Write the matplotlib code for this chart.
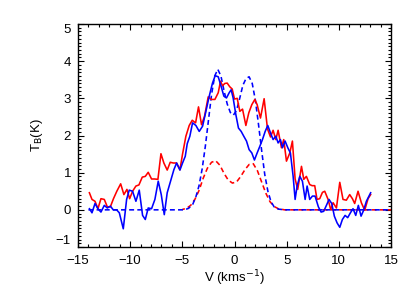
import numpy as np
import matplotlib
matplotlib.use("Agg")
import matplotlib.pyplot as plt
from matplotlib.ticker import MultipleLocator

# observed spectra (velocity in km/s, brightness temperature in K)
red_v = [-13.91, -13.66, -13.37, -13.09, -12.80, -12.48, -12.19, -11.90, -11.60, -11.28,
         -10.91, -10.60, -10.31, -10.05, -9.77, -9.45, -9.16, -8.84, -8.55, -8.27,
         -7.95, -7.66, -7.34, -7.05, -6.77, -6.45, -6.16, -5.87, -5.55, -5.23,
         -4.98, -4.66, -4.34, -4.05, -3.73, -3.45, -3.16, -2.87, -2.52, -2.23,
         -1.88, -1.56, -1.34, -1.15, -0.93, -0.70, -0.45, -0.22, 0.00, 0.26,
         0.51, 0.77, 1.09, 1.37, 1.66, 1.95, 2.17, 2.49, 2.84, 3.16,
         3.45, 3.70, 3.96, 4.18, 4.50, 4.72, 4.98, 5.30, 5.55, 5.81,
         6.06, 6.42, 6.64, 6.89, 7.21, 7.44, 7.69, 7.91, 8.17, 8.43,
         8.65, 8.97, 9.22, 9.45, 9.77, 10.09, 10.40, 10.72, 11.04, 11.30,
         11.52, 11.84, 12.16, 12.48, 12.80, 13.05]
red_t = [0.46, 0.28, 0.23, 0.03, 0.30, 0.28, 0.08, 0.08, 0.30, 0.50,
         0.70, 0.41, 0.55, 0.30, 0.50, 0.64, 0.67, 0.88, 0.90, 1.01,
         0.83, 0.83, 0.82, 1.51, 1.26, 1.07, 1.28, 1.26, 1.26, 1.08,
         1.50, 1.98, 2.27, 2.41, 2.34, 2.77, 2.29, 2.52, 3.04, 2.97,
         2.97, 3.15, 3.46, 3.34, 3.40, 3.41, 3.31, 3.25, 2.98, 3.00,
         2.65, 2.71, 2.27, 2.61, 2.83, 2.97, 2.83, 2.47, 2.99, 2.18,
         1.96, 2.14, 1.89, 2.14, 1.67, 1.89, 1.31, 1.53, 1.85, 0.83,
         0.55, 1.17, 0.82, 0.90, 0.68, 0.65, 0.65, 0.28, 0.30, 0.47,
         0.50, 0.28, 0.01, 0.19, 0.05, 0.74, 0.28, 0.26, 0.41, 0.30,
         0.17, 0.50, 0.19, -0.01, 0.30, 0.41]

blue_v = [-13.90, -13.66, -13.37, -13.09, -12.80, -12.48, -12.19, -11.90, -11.62, -11.30,
          -11.04, -10.66, -10.34, -10.09, -9.77, -9.45, -9.13, -8.81, -8.55, -8.27,
          -7.95, -7.63, -7.31, -7.02, -6.73, -6.45, -6.13, -5.81, -5.55, -5.23,
          -4.98, -4.72, -4.53, -4.28, -4.02, -3.70, -3.38, -3.06, -2.74, -2.42,
          -2.11, -1.85, -1.56, -1.28, -1.02, -0.77, -0.51, -0.32, -0.13, 0.13,
          0.38, 0.64, 0.89, 1.15, 1.40, 1.66, 1.91, 2.17, 2.43, 2.68,
          2.94, 3.19, 3.45, 3.70, 3.96, 4.18, 4.40, 4.60, 4.85, 5.11,
          5.36, 5.62, 5.81, 6.00, 6.26, 6.51, 6.77, 6.96, 7.21, 7.47,
          7.72, 8.04, 8.30, 8.55, 8.81, 9.06, 9.32, 9.57, 9.83, 10.09,
          10.34, 10.60, 10.85, 11.11, 11.36, 11.62, 11.87, 12.13, 12.38, 12.64,
          12.89, 13.05]
blue_t = [0.03, -0.08, 0.17, 0.03, -0.06, 0.12, 0.05, 0.10, 0.00, 0.00,
          -0.08, -0.51, 0.28, 0.53, 0.50, 0.23, 0.53, -0.15, -0.26, 0.05,
          0.03, 0.28, 0.77, 0.41, -0.13, 0.46, 0.77, 1.08, 1.26, 1.07,
          1.26, 1.44, 1.78, 1.98, 2.34, 2.27, 2.11, 2.25, 2.65, 3.06,
          3.41, 3.61, 3.58, 3.32, 3.06, 3.01, 3.15, 3.23, 3.01, 2.56,
          2.20, 2.11, 1.98, 1.85, 1.62, 1.53, 1.34, 1.53, 1.71, 1.89,
          2.11, 2.27, 2.07, 1.89, 1.98, 1.80, 1.89, 1.67, 1.85, 1.67,
          1.53, 0.90, 0.28, 0.64, 0.90, 0.77, 0.28, 0.64, 0.28, 0.37,
          0.37, 0.08, -0.06, -0.04, 0.12, 0.28, 0.17, -0.17, -0.35, -0.47,
          -0.26, -0.15, -0.21, -0.08, 0.03, -0.15, 0.12, -0.17, -0.01, 0.23,
          0.37, 0.46]

# fitted models (dashed)
bfit_v = [-14.0, -4.8, -4.4, -4.0, -3.7, -3.4, -3.1, -2.8, -2.5, -2.2, -1.9, -1.6,
          -1.3, -1.0, -0.7, -0.4, -0.1, 0.2, 0.5, 0.8, 1.1, 1.4, 1.7, 2.0, 2.3,
          2.6, 2.9, 3.2, 3.5, 3.8, 4.2, 4.8, 15.0]
bfit_t = [0.0, 0.0, 0.04, 0.15, 0.35, 0.65, 1.1, 1.7, 2.4, 3.1, 3.6, 3.78,
          3.6, 3.2, 2.85, 2.62, 2.55, 2.68, 3.0, 3.35, 3.53, 3.58, 3.4, 2.95, 2.3,
          1.6, 0.95, 0.5, 0.22, 0.08, 0.02, 0.0, 0.0]
rfit_v = [-5.0, -4.6, -4.2, -3.8, -3.4, -3.0, -2.6, -2.2, -1.8, -1.4, -1.0,
          -0.6, -0.2, 0.2, 0.6, 1.0, 1.4, 1.8, 2.2, 2.6, 3.0, 3.4, 3.8, 4.2, 4.8, 15.0]
rfit_t = [0.01, 0.04, 0.12, 0.28, 0.52, 0.85, 1.12, 1.28, 1.32, 1.2, 0.98,
          0.8, 0.72, 0.75, 0.9, 1.08, 1.22, 1.24, 1.05, 0.75, 0.45, 0.22, 0.09, 0.03, 0.0, 0.0]

plt.rcParams['font.family'] = ['Liberation Sans', 'DejaVu Sans']
plt.rcParams['font.size'] = 9.5

fig = plt.figure(figsize=(4.15, 2.97), dpi=100)
ax = fig.add_axes([78 / 415, 1 - 247 / 297, 313 / 415, 223 / 297])
ax.set_xlim(-15, 15)
ax.set_ylim(-1, 5)

lw = 1.15
dash, gap = 3.1, 2.0          # in units of line width
period = dash + gap


def arc_len(xs, ys, xstop):
    # length (in line-width units) of the drawn path up to xstop
    pts = [(x, y) for x, y in zip(xs, ys) if x <= xstop]
    d = ax.transData.transform(pts) * 72 / fig.dpi
    return np.sum(np.hypot(*np.diff(d, axis=0).T)) / lw


# shift the red dashes so they show in the gaps of the blue ones on the flat tail
sb = arc_len(bfit_v, bfit_t, 4.8)
sr = arc_len(rfit_v, rfit_t, 4.8)
off_r = (sb - dash - sr) % period

ax.plot(rfit_v, rfit_t, color='red', lw=lw, linestyle=(off_r, (dash, gap)))
ax.plot(bfit_v, bfit_t, color='blue', lw=lw, linestyle=(0, (dash, gap)))
ax.plot(red_v, red_t, color='red', lw=lw)
ax.plot(blue_v, blue_t, color='blue', lw=lw)

ax.xaxis.set_minor_locator(MultipleLocator(1))
ax.yaxis.set_minor_locator(MultipleLocator(0.1))
ax.tick_params(which='both', direction='in', top=True, right=True, width=0.8, colors='black')
ax.tick_params(which='major', length=4)
ax.tick_params(which='minor', length=2)
ax.tick_params(axis='x', pad=6)
ax.tick_params(axis='y', pad=5)
for s in ax.spines.values():
    s.set_linewidth(1.0)

ax.set_xticks([-15, -10, -5, 0, 5, 10, 15])
ax.set_xticklabels(['\u221215', '\u221210', '\u22125', '0', '5', '10', '15'])
ax.set_yticks([-1, 0, 1, 2, 3, 4, 5])
ylabs = ax.set_yticklabels(['\u22121', '0', '1', '2', '3', '4', '5'])
ylabs[0].set_va('bottom')
ylabs[-1].set_va('top')

ax.set_xlabel('V (kms$^{-1}$)', labelpad=1)
ax.set_ylabel('T$_{\\rm B}$(K)', labelpad=8)

fig.savefig('out.png', dpi=100)
